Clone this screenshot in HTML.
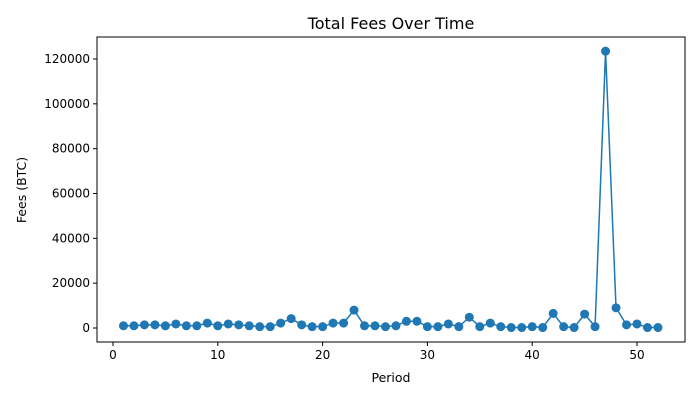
<!DOCTYPE html>
<html><head><meta charset="utf-8"><style>
body{margin:0;background:#fff;font-family:"Liberation Sans","DejaVu Sans",sans-serif}
</style></head><body>
<svg id="c" width="700" height="400" font-family="DejaVu Sans, Liberation Sans, sans-serif"></svg>
<script>
const periods=[];for(let i=1;i<=52;i++)periods.push(i);
const fees=[1000,1000,1400,1400,1000,1800,1000,1000,2200,1000,1800,1400,1000,600,600,2200,4200,1400,600,600,2200,2200,8000,1000,1000,600,1000,3000,3000,600,600,1800,600,4800,600,2200,600,200,200,600,200,6500,600,200,6200,600,123500,9000,1400,1800,200,200];
const xTicks=[0,10,20,30,40,50];
const yTicks=[0,20000,40000,60000,80000,100000,120000];
const L=97,R=685,T=37,B=342;
const x=v=>113+(v-0)*10.48;
const y=v=>328-v*(269/120000);
const s=document.getElementById('c');const NS='http://www.w3.org/2000/svg';
function el(t,a,txt){const e=document.createElementNS(NS,t);for(const k in a)e.setAttribute(k,a[k]);if(txt!=null)e.textContent=txt;s.appendChild(e);return e;}
let e=el('rect',{x:L,y:T,width:R-L,height:B-T,fill:'none',stroke:'#000','stroke-width':1});


xTicks.forEach(t=>{el('line',{x1:x(t),x2:x(t),y1:B,y2:B+4,stroke:'#000'});
const tx=el('text',{x:x(t),y:B+17,'text-anchor':'middle','font-size':12},t);

});
yTicks.forEach(t=>{el('line',{x1:L-4,x2:L,y1:y(t),y2:y(t),stroke:'#000'});
const tx=el('text',{x:L-7,y:y(t)+4,'text-anchor':'end','font-size':12},t);

});
e=el('polyline',{points:periods.map((p,i)=>x(p)+','+y(fees[i])).join(' '),fill:'none',stroke:'#1f77b4','stroke-width':1.5});


periods.forEach((p,i)=>{const c=el('circle',{cx:x(p),cy:y(fees[i]),r:4.5,fill:'#1f77b4'});

});
e=el('text',{x:391,y:29,'text-anchor':'middle','font-size':16},'Total Fees Over Time');


e=el('text',{x:391,y:382,'text-anchor':'middle','font-size':12.5},'Period');


e=el('text',{x:26,y:190,'text-anchor':'middle','font-size':12.5,transform:'rotate(-90 26 190)'},'Fees (BTC)');


</script>
</body></html>
